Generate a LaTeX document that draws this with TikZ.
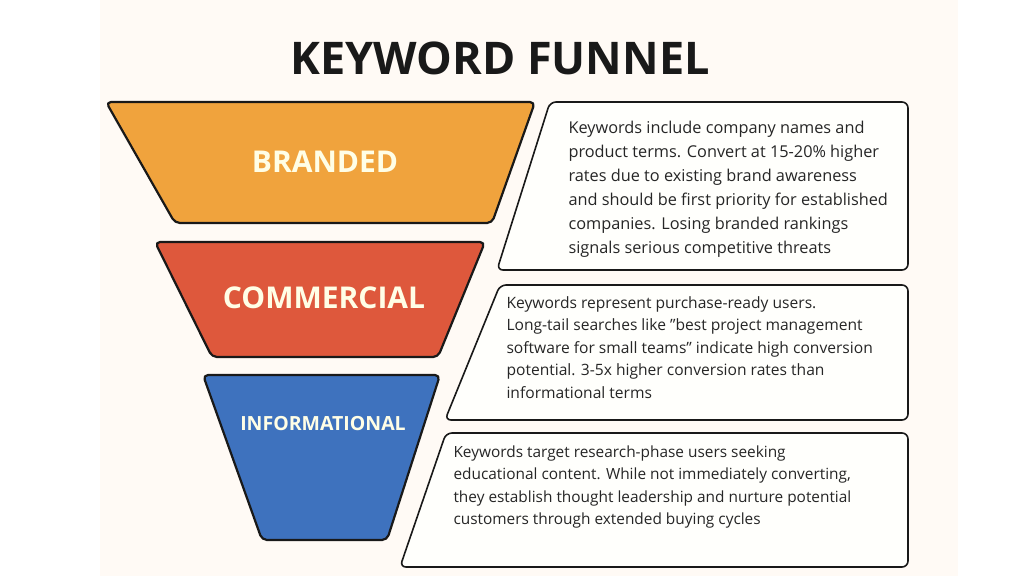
\documentclass[tikz,border=0pt]{standalone}
\usepackage{fontspec}
\setmainfont{Open Sans}
\begin{document}
\begin{tikzpicture}[x=1pt,y=-1pt,
 seg/.style={draw=black!90,line width=2.2pt,rounded corners=5pt,line join=round},
 info/.style={draw=black!90,line width=1.6pt,rounded corners=6pt,fill=white!60!yellow!3},
 lab/.style={font=\bfseries,text=white!90!yellow},
 body/.style={align=left,anchor=north west,text=black!85}]
\useasboundingbox (0,0) rectangle (1024,576);
\fill[white] (0,0) rectangle (1024,576);
\fill[orange!4!white] (100,0) rectangle (958,576);
\node[font=\bfseries\fontsize{45}{48}\selectfont,text=black!90] (title) at (500,58) {KEYWORD FUNNEL};
\draw[seg,fill={rgb,255:red,240;green,163;blue,61}] (106,102) -- (535,102) -- (492,223) -- (175,223) -- cycle;
\draw[seg,fill={rgb,255:red,222;green,88;blue,60}] (155,242) -- (485,242) -- (438,357) -- (212,357) -- cycle;
\draw[seg,fill={rgb,255:red,62;green,114;blue,190}] (203,375) -- (440,375) -- (387,540) -- (262,540) -- cycle;
\node[lab,font=\bfseries\fontsize{30}{32}\selectfont] (b) at (325,162) {BRANDED};
\node[lab,font=\bfseries\fontsize{30}{32}\selectfont] (c) at (324,298) {COMMERCIAL};
\node[lab,font=\bfseries\fontsize{19.5}{22}\selectfont] (i) at (323,424) {INFORMATIONAL};
\draw[info] (550,102) -- (908,102) -- (908,270) -- (497,270) -- cycle;
\draw[info] (500,285) -- (908,285) -- (908,420) -- (445,420) -- cycle;
\draw[info] (446,433) -- (908,433) -- (908,567) -- (400,567) -- cycle;
\node[body,font=\fontsize{16.3}{24}\selectfont] (t1) at (565,118) {Keywords include company names and\\product terms. Convert at 15-20\% higher\\rates due to existing brand awareness\\and should be first priority for established\\companies. Losing branded rankings\\signals serious competitive threats};
\node[body,font=\fontsize{15.6}{22.5}\selectfont] (t2) at (503,293) {Keywords represent purchase-ready users.\\Long-tail searches like "best project management\\software for small teams" indicate high conversion\\potential. 3-5x higher conversion rates than\\informational terms};
\node[body,font=\fontsize{15.4}{22.5}\selectfont] (t3) at (450,442) {Keywords target research-phase users seeking\\educational content. While not immediately converting,\\they establish thought leadership and nurture potential\\customers through extended buying cycles};
\end{tikzpicture}
\end{document}
